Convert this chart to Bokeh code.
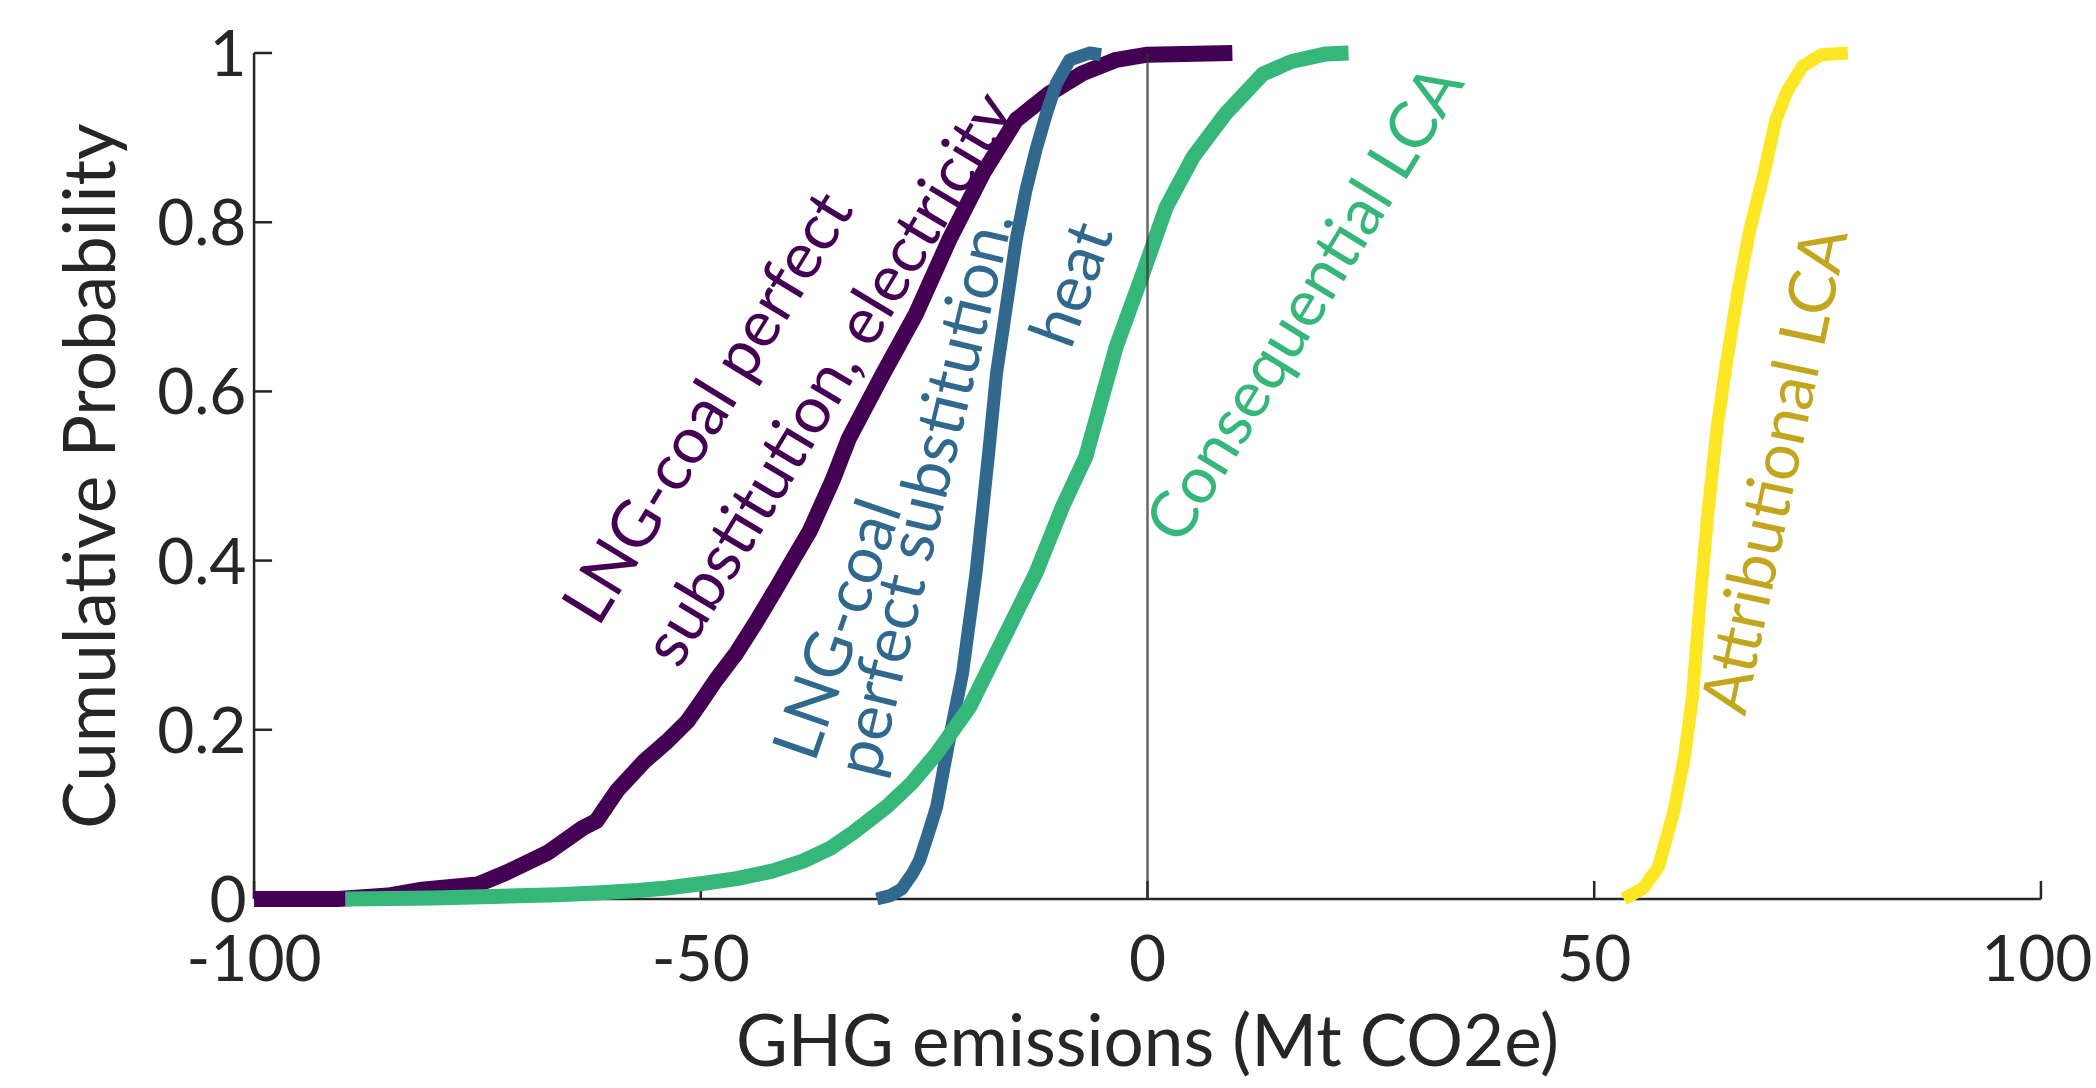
from bokeh.plotting import figure
from bokeh.models import Range1d, FixedTicker, ColumnDataSource
from bokeh.embed import file_html
from bokeh.resources import INLINE
from bokeh.core.properties import value
import math

# ---------------- data ----------------
x_ticks = [-100, -50, 0, 50, 100]
x_tick_labels = ["-100", "-50", "0", "50", "100"]
y_ticks = [0, 0.2, 0.4, 0.6, 0.8, 1]
y_tick_labels = ["0", "0.2", "0.4", "0.6", "0.8", "1"]

elec_x = [-100, -90.6, -85, -81.2, -75.0, -71.8, -67.1, -63.2, -61.7, -59.3, -56.3, -53.8,
          -51.5, -49.9, -48.3, -46.0, -43.6, -41.4, -39.7, -37.8, -35.2, -33.4, -29.6, -25.9,
          -22.2, -18.4, -14.7, -11.0, -7.3, -3.5, 0.0, 9.5]
elec_p = [0, 0, 0.004, 0.011, 0.017, 0.031, 0.055, 0.084, 0.092, 0.129, 0.163, 0.186,
          0.210, 0.234, 0.259, 0.291, 0.331, 0.370, 0.401, 0.435, 0.496, 0.545, 0.621, 0.692,
          0.779, 0.858, 0.921, 0.952, 0.976, 0.992, 0.998, 1.0]

heat_x = [-30.3, -28.8, -27.5, -26.3, -25.5, -24.6, -23.6, -22.2, -20.7, -19.2, -17.8, -16.9,
          -15.8, -14.7, -13.6, -12.5, -11.3, -10.2, -8.7, -6.5, -5.2]
heat_p = [0.0, 0.004, 0.012, 0.030, 0.046, 0.075, 0.109, 0.188, 0.267, 0.385, 0.525, 0.621,
          0.700, 0.779, 0.838, 0.885, 0.929, 0.964, 0.992, 1.0, 0.998]

cons_x = [-89.8, -80, -73.4, -66, -61.7, -57, -53.8, -50, -46.0, -42.0, -38.5, -35.5, -33,
          -29.2, -26.4, -23.6, -19.9, -16.2, -12.5, -9.5, -6.9, -3.5, -0.5, 2.1, 5.1, 8.8,
          12.9, 16.1, 20.0, 22.5]
cons_p = [0.0, 0.001, 0.003, 0.005, 0.007, 0.010, 0.013, 0.018, 0.024, 0.033, 0.045, 0.060,
          0.078, 0.109, 0.137, 0.172, 0.227, 0.306, 0.385, 0.464, 0.523, 0.653, 0.740, 0.818,
          0.877, 0.929, 0.975, 0.990, 0.999, 1.0]

attr_x = [53.3, 55.5, 57.2, 58.9, 60.1, 61.0, 61.8, 62.7, 63.8, 64.8, 66.1, 67.4, 69.1, 70.3,
          71.6, 73.3, 75.4, 78.4]
attr_p = [0, 0.013, 0.038, 0.103, 0.168, 0.239, 0.346, 0.454, 0.561, 0.633, 0.719, 0.790,
          0.862, 0.920, 0.955, 0.984, 0.998, 1.0]

label_text = ["LNG-coal perfect", "substitution, electricity", "LNG-coal",
              "perfect substitution,", "heat", "Consequential LCA", "Attributional LCA"]
label_x = [-49.5, -36.0, -35.0, -25.3, -8.8, 17.3, 69.9]
label_y = [0.583, 0.617, 0.320, 0.480, 0.728, 0.706, 0.507]
label_angle = [58.5, 59.0, 71.0, 76.5, 70.0, 58.5, 78.0]
label_color = ["#440154", "#440154", "#31688e", "#31688e", "#31688e", "#35b779", "#c2a61e"]

# ---------------- styles ----------------
FONT = "Lato"
AX = "#262626"
PURPLE, BLUE, GREEN, YELLOW = "#440154", "#31688e", "#35b779", "#fde725"

p = figure(width=2092, height=1086, output_backend="svg", toolbar_location=None,
           x_range=Range1d(-100.4, 100.4), y_range=Range1d(-0.016, 1.016),
           min_border_left=250, min_border_right=48, min_border_top=39, min_border_bottom=174)
p.outline_line_color = None
p.grid.visible = False
p.background_fill_color = "white"
p.border_fill_color = "white"

for ax in (p.xaxis[0], p.yaxis[0]):
    ax.axis_line_color = None
    ax.major_tick_line_color = None
    ax.minor_tick_line_color = None
    ax.major_tick_in = 0
    ax.major_tick_out = 0
    ax.major_label_text_font = FONT
    ax.major_label_text_font_size = "64px"
    ax.major_label_text_font_style = "normal"
    ax.major_label_text_color = AX
    ax.axis_label_text_font = FONT
    ax.axis_label_text_font_size = "71px"
    ax.axis_label_text_font_style = "normal"
    ax.axis_label_text_color = AX

p.xaxis.ticker = FixedTicker(ticks=x_ticks)
p.yaxis.ticker = FixedTicker(ticks=y_ticks)
p.xaxis.major_label_overrides = {t: s for t, s in zip(x_ticks, x_tick_labels)}
p.yaxis.major_label_overrides = {t: s for t, s in zip(y_ticks, y_tick_labels)}
p.xaxis.axis_label = "GHG emissions (Mt CO2e)"
p.yaxis.axis_label = "Cumulative Probability"
p.xaxis.major_label_standoff = 22
p.yaxis.major_label_standoff = 4
p.xaxis.axis_label_standoff = 12
p.yaxis.axis_label_standoff = 24

# axis lines and inward ticks drawn at the data origin
tick_len_y = 18 / 846.0
tick_len_x = 18 / 8.935
p.segment(x0=[x_ticks[0]], y0=[y_ticks[0]], x1=[x_ticks[-1]], y1=[y_ticks[0]],
          line_color=AX, line_width=2.5)
p.segment(x0=[x_ticks[0]], y0=[y_ticks[0]], x1=[x_ticks[0]], y1=[y_ticks[-1]],
          line_color=AX, line_width=2.5)
p.segment(x0=x_ticks, y0=[0] * len(x_ticks), x1=x_ticks, y1=[tick_len_y] * len(x_ticks),
          line_color=AX, line_width=2.5)
p.segment(x0=[x_ticks[0]] * len(y_ticks), y0=y_ticks,
          x1=[x_ticks[0] + tick_len_x] * len(y_ticks), y1=y_ticks,
          line_color=AX, line_width=2.5)

# curves
p.line(elec_x, elec_p, line_color=PURPLE, line_width=16, line_join="round")
p.line(heat_x, heat_p, line_color=BLUE, line_width=13, line_join="round")
p.line(cons_x, cons_p, line_color=GREEN, line_width=15, line_join="round")
p.line(attr_x, attr_p, line_color=YELLOW, line_width=13, line_join="round")

# zero line
p.segment(x0=[0], y0=[y_ticks[0]], x1=[0], y1=[y_ticks[-1]], line_color="#333333",
          line_width=2.5, line_alpha=0.75)

# curve labels
src = ColumnDataSource(dict(x=label_x, y=label_y, text=label_text,
                            angle=[math.radians(a) for a in label_angle], color=label_color))
p.text(x="x", y="y", text="text", angle="angle", text_color="color", source=src,
       text_font=value(FONT), text_font_size="65px", text_font_style="normal",
       text_align="center", text_baseline="middle")

open("out.html", "w").write(file_html(p, INLINE))
